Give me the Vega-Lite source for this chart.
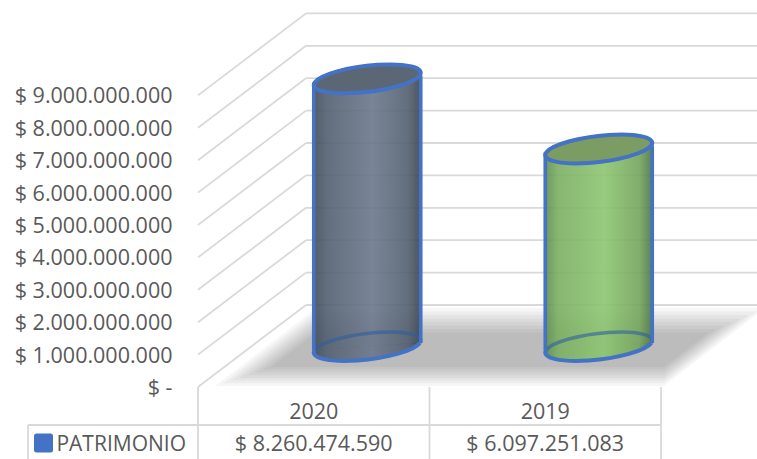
{"$schema":"https://vega.github.io/schema/vega-lite/v6.json","width":757,"height":459,"autosize":"none","padding":0,"background":"white","view":{"stroke":null},
"datasets":{
"patrimonio":[{"year":"2020","slot":0.5,"value":8260474590,"label":"$ 8.260.474.590"},{"year":"2019","slot":1.5,"value":6097251083,"label":"$ 6.097.251.083"}],
"ticks":[{"slot":0,"slotEnd":2.4147,"value":0},{"slot":0,"slotEnd":2.4147,"value":1000000000},{"slot":0,"slotEnd":2.4147,"value":2000000000},{"slot":0,"slotEnd":2.4147,"value":3000000000},{"slot":0,"slotEnd":2.4147,"value":4000000000},{"slot":0,"slotEnd":2.4147,"value":5000000000},{"slot":0,"slotEnd":2.4147,"value":6000000000},{"slot":0,"slotEnd":2.4147,"value":7000000000},{"slot":0,"slotEnd":2.4147,"value":8000000000},{"slot":0,"slotEnd":2.4147,"value":9000000000}],
"shadow":[
{"ring":0,"slot":0.0734,"value":30900000,"value2":30900000},{"ring":0,"slot":0.5119,"value":2438300000,"value2":30900000},{"ring":0,"slot":2.013,"value":2438300000,"value2":30900000},{"ring":0,"slot":2.4492,"value":2438300000,"value2":2438300000},
{"ring":1,"slot":0.108,"value":114200000,"value2":114200000},{"ring":1,"slot":0.5119,"value":2330200000,"value2":114200000},{"ring":1,"slot":2.013,"value":2330200000,"value2":114200000},{"ring":1,"slot":2.4147,"value":2330200000,"value2":2330200000},
{"ring":2,"slot":0.1425,"value":197500000,"value2":197500000},{"ring":2,"slot":0.5119,"value":2222200000,"value2":197500000},{"ring":2,"slot":2.013,"value":2222200000,"value2":197500000},{"ring":2,"slot":2.3801,"value":2222200000,"value2":2222200000},
{"ring":3,"slot":0.1771,"value":280900000,"value2":280900000},{"ring":3,"slot":0.5119,"value":2114200000,"value2":280900000},{"ring":3,"slot":2.013,"value":2114200000,"value2":280900000},{"ring":3,"slot":2.3456,"value":2114200000,"value2":2114200000},
{"ring":4,"slot":0.2117,"value":364200000,"value2":364200000},{"ring":4,"slot":0.5119,"value":2006200000,"value2":364200000},{"ring":4,"slot":2.013,"value":2006200000,"value2":364200000},{"ring":4,"slot":2.311,"value":2006200000,"value2":2006200000},
{"ring":5,"slot":0.2462,"value":447500000,"value2":447500000},{"ring":5,"slot":0.5119,"value":1898100000,"value2":447500000},{"ring":5,"slot":2.013,"value":1898100000,"value2":447500000},{"ring":5,"slot":2.2765,"value":1898100000,"value2":1898100000},
{"ring":6,"slot":0.2808,"value":530900000,"value2":530900000},{"ring":6,"slot":0.5119,"value":1790100000,"value2":530900000},{"ring":6,"slot":2.013,"value":1790100000,"value2":530900000},{"ring":6,"slot":2.2419,"value":1790100000,"value2":1790100000},
{"ring":7,"slot":0.3153,"value":614200000,"value2":614200000},{"ring":7,"slot":0.5119,"value":1682100000,"value2":614200000},{"ring":7,"slot":2.013,"value":1682100000,"value2":614200000},{"ring":7,"slot":2.2073,"value":1682100000,"value2":1682100000}
],
"table":[{"slot":0,"slotEnd":0,"value":0,"value2":-2222000000},{"slot":1,"slotEnd":1,"value":0,"value2":-2222000000},{"slot":2,"slotEnd":2,"value":0,"value2":-2222000000},{"slot":-0.7343,"slotEnd":-0.7343,"value":-1173000000,"value2":-2222000000},{"slot":-0.7343,"slotEnd":2,"value":-1173000000,"value2":-1173000000}],
"body2020":[{"slot":0.2689,"value":8152000000,"value2":-108000000},{"slot":0.7311,"value":8368000000,"value2":108000000}],
"body2019":[{"slot":1.2689,"value":5989000000,"value2":-108000000},{"slot":1.7311,"value":6205000000,"value2":108000000}],
"bases":[{"year":"2020","slot":0.5,"value":0},{"year":"2019","slot":1.5,"value":0}],
"series":[{"name":"PATRIMONIO","slot":0,"value":0}]
},
"encoding":{
"x":{"field":"slot","type":"quantitative","axis":null,"scale":{"domain":[-0.8553,2.4147],"range":[0,757],"nice":false,"zero":false}},
"y":{"field":"value","type":"quantitative","title":null,"scale":{"domain":[-2222222222,11944444444],"range":[459,0],"nice":false,"zero":false},
"axis":{"values":[0,1000000000,2000000000,3000000000,4000000000,5000000000,6000000000,7000000000,8000000000,9000000000],"grid":false,"domain":false,"ticks":false,"offset":-172,"labelPadding":0,"labelOffset":1.5,"labelFont":"Open Sans","labelFontSize":21.5,"labelColor":"#595959","labelOverlap":false,"labelBound":false,"labelFlush":false,"labelExpr":"datum.value==0?'$ -':'$ '+replace(format(datum.value,','),/,/g,'.')"}}
},
"layer":[
{"data":{"name":"shadow"},"mark":{"type":"area","color":"#000000","opacity":0.037},"encoding":{"detail":{"field":"ring"},"y2":{"field":"value2"}}},
{"data":{"name":"ticks"},"mark":{"type":"rule","color":"#d9d9d9","strokeWidth":1.8,"x2Offset":108,"y2Offset":-82},"encoding":{"x2":{"field":"slot"},"y2":{"field":"value"}}},
{"data":{"name":"ticks"},"mark":{"type":"rule","color":"#d9d9d9","strokeWidth":1.8,"xOffset":108,"x2Offset":0,"yOffset":-82},"encoding":{"x2":{"field":"slotEnd"}}},
{"data":{"name":"table"},"mark":{"type":"rule","color":"#d9d9d9","strokeWidth":1.8},"encoding":{"x2":{"field":"slotEnd"},"y2":{"field":"value2"}}},
{"data":{"name":"body2020"},"mark":{"type":"area","opacity":0.9,"xOffset":53.5,"yOffset":-40.5,"y2Offset":-40.5,"fill":{"gradient":"linear","x1":0,"y1":0,"x2":1,"y2":0,"stops":[{"offset":0,"color":"#3f4a5b"},{"offset":0.12,"color":"#525e6f"},{"offset":0.55,"color":"#6a778b"},{"offset":0.88,"color":"#525e6f"},{"offset":1,"color":"#39434f"}]}},"encoding":{"y2":{"field":"value2"}}},
{"data":{"name":"body2019"},"mark":{"type":"area","opacity":0.9,"xOffset":53.5,"yOffset":-40.5,"y2Offset":-40.5,"fill":{"gradient":"linear","x1":0,"y1":0,"x2":1,"y2":0,"stops":[{"offset":0,"color":"#5d8d50"},{"offset":0.12,"color":"#7aae62"},{"offset":0.55,"color":"#8cc570"},{"offset":0.88,"color":"#74a45c"},{"offset":1,"color":"#4a7445"}]}},"encoding":{"y2":{"field":"value2"}}},
{"data":{"name":"bases"},"transform":[{"filter":"datum.year=='2020'"}],"mark":{"type":"point","filled":true,"opacity":0.9,"size":4,"xOffset":53.5,"yOffset":-40.5,"shape":"M-52.5 3.5C-58.02 11.23 -39 15.93 -10 14C19 12.07 46.98 4.23 52.5 -3.5L52.5 -3.9L-52.5 3.1Z","fill":{"gradient":"linear","x1":0,"y1":0,"x2":1,"y2":0,"stops":[{"offset":0,"color":"#3f4a5b"},{"offset":0.12,"color":"#525e6f"},{"offset":0.55,"color":"#6a778b"},{"offset":0.88,"color":"#525e6f"},{"offset":1,"color":"#39434f"}]}}},
{"data":{"name":"bases"},"transform":[{"filter":"datum.year=='2019'"}],"mark":{"type":"point","filled":true,"opacity":0.9,"size":4,"xOffset":53.5,"yOffset":-40.5,"shape":"M-52.5 3.5C-58.02 11.23 -39 15.93 -10 14C19 12.07 46.98 4.23 52.5 -3.5L52.5 -3.9L-52.5 3.1Z","fill":{"gradient":"linear","x1":0,"y1":0,"x2":1,"y2":0,"stops":[{"offset":0,"color":"#5d8d50"},{"offset":0.12,"color":"#7aae62"},{"offset":0.55,"color":"#8cc570"},{"offset":0.88,"color":"#74a45c"},{"offset":1,"color":"#4a7445"}]}}},
{"data":{"name":"bases"},"mark":{"type":"point","filled":false,"fill":null,"opacity":0.6,"size":4,"strokeWidth":3.6,"stroke":"#2f5f9e","xOffset":53.5,"yOffset":-40.5,"shape":"M52.5 -3.5C58.02 -11.23 39 -15.93 10 -14C-19 -12.07 -46.98 -4.23 -52.5 3.5"}},
{"data":{"name":"bases"},"mark":{"type":"point","filled":false,"fill":null,"opacity":1,"size":4,"strokeWidth":4,"stroke":"#4472c4","xOffset":53.5,"yOffset":-40.5,"shape":"M-52.5 3.5C-58.02 11.23 -39 15.93 -10 14C19 12.07 46.98 4.23 52.5 -3.5"}},
{"data":{"name":"body2020"},"mark":{"type":"rule","color":"#4472c4","strokeWidth":3.6,"xOffset":53.5,"yOffset":-40.5,"y2Offset":-40.5},"encoding":{"y2":{"field":"value2"}}},
{"data":{"name":"body2019"},"mark":{"type":"rule","color":"#4472c4","strokeWidth":3.6,"xOffset":53.5,"yOffset":-40.5,"y2Offset":-40.5},"encoding":{"y2":{"field":"value2"}}},
{"data":{"name":"patrimonio"},"transform":[{"filter":"datum.year=='2020'"}],"mark":{"type":"point","filled":true,"opacity":1,"size":4,"fill":"#5b6775","stroke":"#4472c4","strokeWidth":4,"xOffset":53.5,"yOffset":-40.5,"shape":"M52.5 -3.5C58.02 -11.23 39 -15.93 10 -14C-19 -12.07 -46.98 -4.23 -52.5 3.5C-58.02 11.23 -39 15.93 -10 14C19 12.07 46.98 4.23 52.5 -3.5Z"}},
{"data":{"name":"patrimonio"},"transform":[{"filter":"datum.year=='2019'"}],"mark":{"type":"point","filled":true,"opacity":1,"size":4,"fill":"#7b9c63","stroke":"#4472c4","strokeWidth":4,"xOffset":53.5,"yOffset":-40.5,"shape":"M52.5 -3.5C58.02 -11.23 39 -15.93 10 -14C-19 -12.07 -46.98 -4.23 -52.5 3.5C-58.02 11.23 -39 15.93 -10 14C19 12.07 46.98 4.23 52.5 -3.5Z"}},
{"data":{"name":"bases"},"mark":{"type":"text","font":"Open Sans","fontSize":21.5,"color":"#595959","align":"center","baseline":"middle","yOffset":25.5},"encoding":{"text":{"field":"year"}}},
{"data":{"name":"patrimonio"},"mark":{"type":"text","font":"Open Sans","fontSize":21.5,"color":"#595959","align":"center","baseline":"middle"},"encoding":{"y":{"value":444.5},"text":{"field":"label"}}},
{"data":{"name":"series"},"mark":{"type":"text","font":"Open Sans","fontSize":21,"color":"#595959","align":"right","baseline":"middle","xOffset":-12,"yOffset":57.5},"encoding":{"text":{"field":"name"}}},
{"data":{"name":"series"},"mark":{"type":"point","filled":true,"opacity":1,"size":4,"fill":"#4472c4","xOffset":-154.5,"yOffset":56,"shape":"M-7 -9.5H7Q9.5 -9.5 9.5 -7V7Q9.5 9.5 7 9.5H-7Q-9.5 9.5 -9.5 7V-7Q-9.5 -9.5 -7 -9.5Z"}}
]}
